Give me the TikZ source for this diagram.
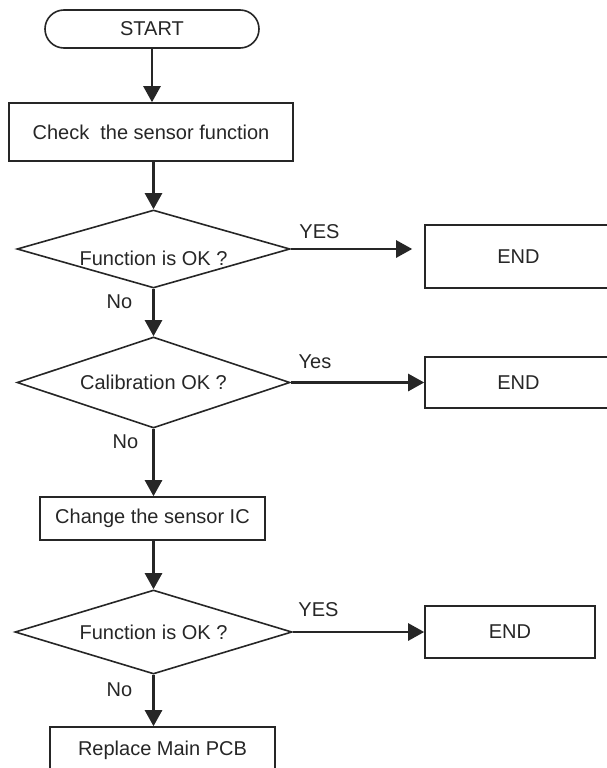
\documentclass[tikz,border=0pt]{standalone}
\usepackage{fontspec}
\setmainfont{Liberation Sans}
\usetikzlibrary{shapes.geometric,arrows.meta}

\begin{document}
\begin{tikzpicture}[x=1pt,y=-1pt,
  every node/.style={font=\fontsize{20}{24}\selectfont,text=black!85},
  box/.style={rectangle,draw=black!85,line width=1.6pt,inner sep=0pt},
  ask/.style={diamond,draw=black!85,line width=1.6pt,inner sep=0pt,aspect=3.5},
  flow/.style={draw=black!85,line width=2.6pt,-{Triangle[length=16pt,width=17pt]}}]
\useasboundingbox (0,0) rectangle (606,768);
\node [box,rounded corners=19pt,minimum width=214pt,minimum height=38pt] (start) at (152,29) {START};
\node [box,minimum width=284pt,minimum height=58pt] (check) at (151,132) {Check~ the sensor function};
\node [ask,minimum width=273pt,minimum height=78pt,label={[yshift=-9pt]center:Function is OK ?}] (q1) at (153.5,249) {};
\node [box,minimum width=187pt,minimum height=63pt] (end1) at (518.5,256.5) {END};
\node [ask,minimum width=273pt,minimum height=91pt] (q2) at (153.5,382.5) {Calibration OK ?};
\node [box,minimum width=187pt,minimum height=51pt] (end2) at (518.5,382.5) {END};
\node [box,minimum width=225pt,minimum height=43pt] (change) at (152.5,518.5) {Change the sensor IC};
\node [ask,minimum width=277pt,minimum height=84pt] (q3) at (153.5,632) {Function is OK ?};
\node [box,minimum width=170pt,minimum height=52pt] (end3) at (510,632) {END};
\node [box,minimum width=225pt,minimum height=46pt] (pcb) at (162.5,750) {Replace Main PCB};
% branch labels
\node (yes1) at (319.5,232) {YES};
\node (yes2) at (315,362) {Yes};
\node (yes3) at (318.5,610) {YES};
\node (no1) at (119.5,302) {No};
\node (no2) at (125.5,442) {No};
\node (no3) at (119.5,690) {No};
% connectors
\draw [flow] (start.south) -- (start.south |- check.north);
\draw [flow] (check.south -| q1) -- (q1.north);
\draw [flow] (q1.south) -- (q2.north);
\draw [flow] (q2.south) -- (q2.south |- change.north);
\draw [flow] (change.south -| q3) -- (q3.north);
\draw [flow] (q3.south) -- (q3.south |- pcb.north);
\draw [flow,shorten >=12pt] (q1.east) -- (end1.west |- q1.east);
\draw [flow] (q2.east) -- (end2.west);
\draw [flow] (q3.east) -- (end3.west);
\end{tikzpicture}
\end{document}
